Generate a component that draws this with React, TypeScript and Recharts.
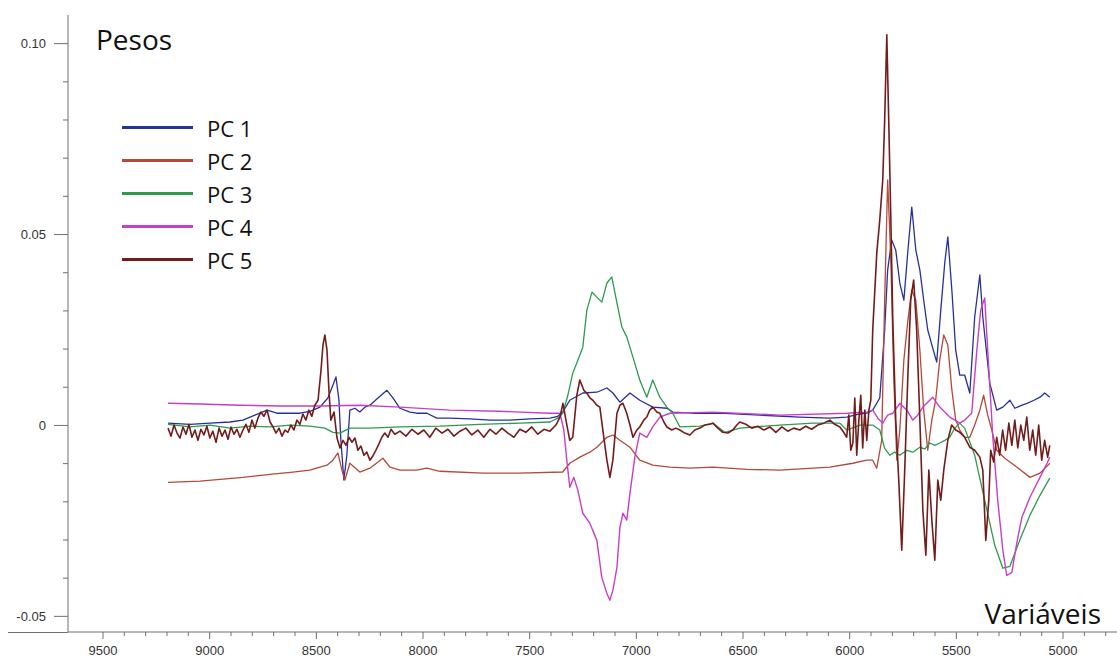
import React from 'react';
import { Legend, Line, LineChart, XAxis, YAxis } from 'recharts';

const WIDTH = 1117;
const HEIGHT = 670;
const AXIS_COLOR = '#707070';
const TICK_TEXT = '#333333';
const TICK_FONT = '"Liberation Sans", Arial, sans-serif';
const TITLE_FONT = '"Open Sans", "Noto Sans", sans-serif';

// wavenumber axis, drawn high -> low (left -> right)
const X_MIN = 4747;
const X_MAX = 9664;
const Y_MIN = -0.0541;
const Y_MAX = 0.1075;

const X_LABELS = [9500, 9000, 8500, 8000, 7500, 7000, 6500, 6000, 5500, 5000];
const Y_TICKS = [-0.05, -0.04, -0.03, -0.02, -0.01, 0, 0.01, 0.02, 0.03, 0.04, 0.05, 0.06, 0.07, 0.08, 0.09, 0.1];
const Y_LABELS = [
  { value: -0.05, text: '-0.05' },
  { value: 0, text: '0' },
  { value: 0.05, text: '0.05' },
  { value: 0.1, text: '0.10' },
];

const xTicks: number[] = [];
for (let v = 9500; v >= 4800; v -= 100) xTicks.push(v);

// loadings per component: wavenumber + weight
const pc1Wn = [
  9195, 9092, 8999, 8905, 8844, 8788, 8731, 8685, 8624, 8577, 8530, 8483, 8446, 8422, 8408, 8394, 8385, 8371, 8357, 8343,
  8319, 8296, 8272, 8249, 8211, 8169, 8141, 8108, 8061, 8029, 7982, 7935, 7874, 7780, 7686, 7593, 7499, 7405, 7368, 7345,
  7312, 7251, 7185, 7138, 7110, 7077, 7030, 6984, 6923, 6857, 6829, 6735, 6609, 6421, 6234, 6093, 6014, 5953, 5920, 5892,
  5859, 5836, 5822, 5803, 5784, 5765, 5746, 5727, 5709, 5690, 5671, 5653, 5634, 5611, 5592, 5573, 5554, 5540, 5521, 5503,
  5484, 5461, 5437, 5414, 5390, 5376, 5343, 5311, 5282, 5249, 5226, 5192, 5169, 5136, 5108, 5086, 5062,
];
const pc1 = [
  0.0006, 0.0003, 0.0006, 0.0009, 0.0014, 0.0027, 0.004, 0.0032, 0.0032, 0.0032, 0.0037, 0.0048, 0.0072, 0.0106, 0.0127, 0.0066, -0.0038, -0.0143, -0.0078, 0.004,
  0.0045, 0.0035, 0.0048, 0.0053, 0.0072, 0.0092, 0.0072, 0.0045, 0.0035, 0.0032, 0.0032, 0.0019, 0.0019, 0.0017, 0.0014, 0.0014, 0.0017, 0.0019, 0.0024, 0.0035,
  0.0066, 0.0085, 0.0087, 0.0098, 0.0085, 0.0061, 0.0085, 0.0066, 0.0048, 0.0045, 0.0035, 0.0032, 0.0032, 0.0027, 0.0022, 0.0019, 0.0022, 0.003, 0.0032, 0.004,
  0.0072, 0.025, 0.0407, 0.0486, 0.0459, 0.0373, 0.0328, 0.0459, 0.0572, 0.0459, 0.0407, 0.0328, 0.025, 0.0203, 0.0166, 0.0302, 0.0428, 0.0494, 0.0354, 0.0197,
  0.0132, 0.0132, 0.0085, 0.0284, 0.0394, 0.0284, 0.011, 0.004, 0.0048, 0.0066, 0.0045, 0.0053, 0.0058, 0.0066, 0.0074, 0.0085, 0.0074,
];

const pc2Wn = [
  9195, 9045, 8844, 8717, 8610, 8530, 8483, 8450, 8422, 8399, 8380, 8366, 8343, 8296, 8249, 8188, 8155, 8108, 8029, 7982,
  7921, 7719, 7547, 7345, 7312, 7265, 7218, 7185, 7138, 7110, 7077, 7030, 6984, 6923, 6842, 6749, 6641, 6482, 6327, 6093,
  5985, 5920, 5892, 5873, 5850, 5836, 5822, 5807, 5793, 5779, 5765, 5746, 5727, 5709, 5690, 5671, 5653, 5634, 5615, 5597,
  5578, 5559, 5540, 5521, 5503, 5484, 5461, 5437, 5414, 5390, 5372, 5353, 5334, 5311, 5273, 5217, 5155, 5108, 5062,
];
const pc2 = [
  -0.0149, -0.0146, -0.0136, -0.0128, -0.0122, -0.0117, -0.0109, -0.0104, -0.0091, -0.0072, -0.0117, -0.0143, -0.0099, -0.0122, -0.0112, -0.0086, -0.0109, -0.0117, -0.0117, -0.0112,
  -0.012, -0.0125, -0.0125, -0.0122, -0.0099, -0.0083, -0.007, -0.0057, -0.0031, -0.0025, -0.0039, -0.0057, -0.0091, -0.0104, -0.0109, -0.0112, -0.0109, -0.0115, -0.0117, -0.0109,
  -0.0099, -0.0091, -0.0091, -0.0112, -0.0039, 0.0328, 0.0643, 0.0433, 0.0119, -0.0091, -0.0012, 0.0171, 0.0276, 0.0355, 0.0328, 0.0197, 0.004, -0.0065, 0.0014, 0.0066,
  0.0171, 0.0237, 0.0211, 0.0093, 0.0014, -0.0012, -0.0031, -0.0031, 0.0001, 0.004, 0.0079, 0.0027, -0.0012, -0.0065, -0.0086, -0.0109, -0.0136, -0.0125, -0.0099,
];

const pc3Wn = [
  9195, 9092, 8999, 8905, 8811, 8717, 8624, 8530, 8460, 8422, 8389, 8343, 8249, 8108, 7921, 7733, 7546, 7405, 7368, 7345,
  7321, 7298, 7274, 7251, 7232, 7208, 7185, 7162, 7138, 7115, 7091, 7068, 7045, 7016, 6984, 6951, 6923, 6890, 6857, 6829,
  6796, 6702, 6641, 6585, 6515, 6327, 6173, 6046, 6014, 5953, 5892, 5859, 5836, 5812, 5789, 5765, 5732, 5704, 5671, 5648,
  5625, 5601, 5578, 5554, 5531, 5507, 5484, 5461, 5414, 5367, 5320, 5282, 5249, 5203, 5155, 5108, 5062,
];
const pc3 = [
  0.0003, -0.0004, 0.0001, -0.0007, -0.0002, -0.0004, 0.0001, -0.0002, -0.0007, -0.0018, -0.002, -0.0007, -0.0007, -0.0004, -0.0002, 0.0003, 0.0006, 0.0009, 0.0019, 0.0032,
  0.0079, 0.0137, 0.0171, 0.0205, 0.0302, 0.0349, 0.0336, 0.0323, 0.0373, 0.0389, 0.0321, 0.0258, 0.0232, 0.0179, 0.0119, 0.0074, 0.0119, 0.0074, 0.0048, 0.0032,
  -0.0004, -0.0002, 0.0006, -0.0018, -0.0007, 0.0001, 0.0006, 0.0006, -0.0012, 0.0001, 0.0001, -0.0012, -0.006, -0.0078, -0.007, -0.0078, -0.0065, -0.007, -0.0057, -0.0062,
  -0.0046, -0.0052, -0.0046, -0.0039, -0.0031, -0.0007, 0.0006, -0.0007, -0.0078, -0.0196, -0.0314, -0.0374, -0.0369, -0.0301, -0.0235, -0.0183, -0.0138,
];

const pc4Wn = [
  9195, 9045, 8858, 8671, 8483, 8296, 8108, 7874, 7640, 7405, 7358, 7340, 7326, 7312, 7293, 7274, 7251, 7218, 7185, 7162,
  7138, 7124, 7110, 7091, 7077, 7063, 7045, 7030, 7007, 6984, 6951, 6923, 6890, 6843, 6641, 6327, 6014, 5920, 5892, 5868,
  5845, 5822, 5798, 5765, 5732, 5704, 5681, 5657, 5634, 5611, 5578, 5531, 5484, 5461, 5428, 5404, 5386, 5367, 5353, 5329,
  5306, 5282, 5264, 5240, 5217, 5193, 5155, 5108, 5075, 5062,
];
const pc4 = [
  0.0058, 0.0056, 0.0053, 0.0051, 0.0051, 0.0053, 0.0048, 0.004, 0.0037, 0.0032, 0.0032, -0.0012, -0.0091, -0.0162, -0.0136, -0.017, -0.023, -0.0256, -0.0301, -0.0398,
  -0.044, -0.0458, -0.0432, -0.0372, -0.0267, -0.023, -0.0248, -0.0178, -0.0083, -0.002, -0.0031, -0.0004, 0.0022, 0.0032, 0.0035, 0.0027, 0.0032, 0.0035, 0.004, 0.0019,
  0.0006, 0.0027, 0.0032, 0.0058, 0.004, 0.0014, 0.0027, 0.0048, 0.0061, 0.0074, 0.0048, 0.0022, 0.0006, 0.0014, 0.0032, 0.0197, 0.0302, 0.0334, 0.0197, -0.0031,
  -0.0196, -0.0327, -0.0393, -0.0385, -0.0309, -0.0241, -0.0188, -0.0136, -0.0099, -0.0083,
];

const pc5Wn = [
  9195, 9181, 9167, 9153, 9139, 9125, 9111, 9097, 9083, 9069, 9055, 9041, 9027, 9013, 8999, 8985, 8970, 8956, 8942, 8928,
  8914, 8900, 8886, 8872, 8858, 8844, 8830, 8816, 8802, 8788, 8774, 8760, 8746, 8731, 8717, 8703, 8689, 8675, 8661, 8647,
  8633, 8619, 8605, 8591, 8577, 8563, 8549, 8535, 8521, 8507, 8492, 8478, 8469, 8460, 8450, 8441, 8432, 8417,
  8403, 8389, 8375, 8361, 8347, 8333, 8319, 8305, 8291, 8277, 8263, 8249, 8235, 8221, 8207, 8193, 8179, 8164, 8150, 8132,
  8108, 8080, 8052, 8024, 7996, 7968, 7940, 7911, 7883, 7855, 7827, 7799, 7771, 7743, 7715, 7686, 7658, 7630, 7602, 7574,
  7546, 7518, 7490, 7462, 7433, 7405, 7377,
  7358, 7344, 7330, 7312, 7298, 7279, 7265, 7246, 7232, 7218, 7204, 7185, 7171, 7157, 7138, 7124, 7110, 7091, 7077, 7063,
  7045, 7030, 7016, 6998, 6984, 6965, 6951, 6937, 6923, 6904, 6890, 6871, 6857,
  6834, 6815, 6796, 6773, 6749, 6726, 6702, 6679, 6656, 6641, 6618, 6595, 6571, 6548, 6529, 6515, 6487, 6459, 6431, 6402,
  6374, 6346, 6318, 6290, 6262, 6234, 6206, 6178, 6150, 6121, 6093, 6070, 6046, 6028, 6014,
  6004, 5995, 5985, 5976, 5967, 5957, 5948, 5939, 5929, 5920, 5910, 5901,
  5892, 5882, 5873, 5859, 5845, 5836, 5826, 5817, 5807, 5798, 5784, 5770, 5756, 5742, 5728, 5714, 5700, 5686, 5671, 5657,
  5643, 5629, 5615, 5601, 5587, 5573, 5559,
  5540, 5522, 5503, 5484, 5461, 5437, 5414, 5390, 5376, 5362, 5348, 5339, 5325, 5311, 5297, 5283, 5269, 5254, 5240, 5226,
  5212, 5198, 5184, 5170, 5156, 5142, 5128, 5114, 5100, 5086, 5072, 5062,
];
const pc5 = [
  -0.0007, -0.0028, 0.0001, -0.002, -0.0033, -0.0004, -0.0023, 0.0003, -0.0031, -0.0012, -0.0039, -0.001, -0.0025, -0.0002, -0.0033, -0.0015, -0.0044, -0.0007, -0.0028, -0.0012,
  -0.0036, -0.0004, -0.0023, -0.001, -0.0031, -0.0012, 0.0003, -0.0018, 0.0014, -0.0007, 0.0019, 0.0035, 0.0024, 0.004, 0.0009, -0.0004, -0.002, -0.0007, -0.0028, -0.0012,
  -0.0018, 0.0001, -0.0012, 0.0014, 0.0003, 0.003, 0.0014, 0.004, 0.0024, 0.0053, 0.0066, 0.0145, 0.021, 0.0237, 0.0197, 0.0092, 0.0014, 0.0035,
  -0.0033, -0.0059, -0.0039, -0.0052, -0.0031, -0.0044, -0.0033, -0.0065, -0.0054, -0.0078, -0.007, -0.0091, -0.008, -0.0065, -0.0049, -0.0031, -0.002, -0.0031, -0.001, -0.0023,
  -0.0015, -0.0028, -0.001, -0.0023, -0.0012, -0.0031, -0.0007, -0.002, -0.001, -0.0028, -0.0015, -0.0007, -0.0025, -0.0012, -0.0031, -0.001, -0.0023, -0.0007, -0.002, -0.0031,
  -0.001, -0.0018, -0.0004, -0.0023, -0.001, -0.0015, 0.0001,
  0.0022, 0.0058, 0.0014, -0.0039, -0.0031, 0.0079, 0.0119, 0.0092, 0.0085, 0.0072, 0.0066, 0.0053, 0.0048, -0.0012, -0.0091, -0.0136, -0.0091, 0.0032, 0.0053, 0.0058,
  0.0032, 0.0001, -0.0031, -0.0012, -0.0004, 0.0014, 0.0022, 0.004, 0.0048, 0.0035, 0.0032, 0.0009, -0.0004,
  -0.0012, -0.0007, -0.0012, -0.002, -0.0025, -0.0012, -0.0007, 0.0001, 0.0003, 0.0006, -0.0007, -0.0018, -0.002, -0.0012, 0.0001, 0.0009, 0.0003, -0.0007, -0.0002, -0.0012,
  -0.0004, -0.0018, -0.0004, -0.0015, -0.0007, -0.0012, -0.0002, -0.001, 0.0001, 0.0006, 0.0014, 0.0003, -0.0004, -0.0018, -0.0031,
  0.0027, -0.0065, -0.0046, 0.0072, -0.0078, 0.0014, 0.0079, -0.0059, 0.004, -0.0039, 0.004, 0.0066,
  0.025, 0.0355, 0.0452, 0.0538, 0.0643, 0.08, 0.1023, 0.08, 0.0538, 0.0276, 0.0014, -0.0143, -0.0327, -0.0117, 0.0119, 0.0328, 0.0381, 0.025, 0.0014, -0.0222,
  -0.034, -0.0117, -0.0248, -0.0353, -0.0143, -0.0196, -0.0117,
  -0.0039, 0.0001, -0.0012, -0.0018, -0.0031, -0.0057, -0.0065, -0.0083, -0.0117, -0.0301, -0.0196, -0.0065, -0.0096, -0.0031, -0.0078, -0.0012, -0.0065, 0.0006, -0.0052, 0.0014,
  -0.0059, 0.0001, -0.0039, 0.0022, -0.0065, -0.0012, -0.0078, 0.0001, -0.0091, -0.0039, -0.0083, -0.0052,
];

const toPoints = (wn: number[], w: number[]) => wn.map((x, i) => ({ x, y: w[i] }));

const SERIES = [
  { name: 'PC 1', color: '#26309a', width: 1.3, data: toPoints(pc1Wn, pc1) },
  { name: 'PC 2', color: '#b4483a', width: 1.3, data: toPoints(pc2Wn, pc2) },
  { name: 'PC 3', color: '#2f9a4e', width: 1.3, data: toPoints(pc3Wn, pc3) },
  { name: 'PC 4', color: '#c63fc8', width: 1.4, data: toPoints(pc4Wn, pc4) },
  { name: 'PC 5', color: '#721c1c', width: 1.6, data: toPoints(pc5Wn, pc5) },
];

function XTick({ x, y, payload }: any) {
  const value = payload.value as number;
  const major = X_LABELS.includes(value);
  return (
    <g>
      <line x1={x} x2={x} y1={y} y2={y + (major ? 7 : 4)} stroke={AXIS_COLOR} />
      {major && (
        <text x={x} y={y + 23} textAnchor="middle" fontSize={13} fontFamily={TICK_FONT} fill={TICK_TEXT}>
          {value}
        </text>
      )}
    </g>
  );
}

function YTick({ x, y, payload }: any) {
  const value = payload.value as number;
  const label = Y_LABELS.find((l) => Math.abs(l.value - value) < 1e-9);
  return (
    <g>
      <line x1={x - (label ? 14 : 5)} x2={x} y1={y} y2={y} stroke={AXIS_COLOR} />
      {label && (
        <text x={x - 22} y={y} dy="0.35em" textAnchor="end" fontSize={13} fontFamily={TICK_FONT} fill={TICK_TEXT}>
          {label.text}
        </text>
      )}
    </g>
  );
}

function LegendBox({ payload }: any) {
  return (
    <div>
      {(payload || []).map((entry: any) => (
        <div key={entry.value} style={{ display: 'flex', alignItems: 'center', height: 33 }}>
          <span style={{ display: 'inline-block', width: 71, height: 3, background: entry.color, marginRight: 14 }} />
          <span style={{ fontSize: 22, fontFamily: TITLE_FONT, color: '#111', lineHeight: 1 }}>{entry.value}</span>
        </div>
      ))}
    </div>
  );
}

export default function App() {
  return (
    <div style={{ position: 'absolute', left: 0, top: 0, width: WIDTH, height: HEIGHT, background: '#fff' }}>
      <LineChart width={WIDTH} height={HEIGHT} margin={{ top: 15, right: 0, bottom: 8, left: 0 }}>
        <XAxis
          type="number"
          dataKey="x"
          domain={[X_MIN, X_MAX]}
          reversed
          allowDataOverflow
          ticks={xTicks}
          interval={0}
          tick={(p: any) => <XTick {...p} />}
          tickLine={false}
          tickSize={0}
          tickMargin={0}
          axisLine={{ stroke: AXIS_COLOR }}
          height={30}
        />
        <YAxis
          type="number"
          domain={[Y_MIN, Y_MAX]}
          allowDataOverflow
          ticks={Y_TICKS}
          interval={0}
          tick={(p: any) => <YTick {...p} />}
          tickLine={false}
          tickSize={0}
          tickMargin={0}
          axisLine={{ stroke: AXIS_COLOR }}
          width={68}
        />
        <Legend
          layout="vertical"
          align="center"
          verticalAlign="middle"
          content={<LegendBox />}
          wrapperStyle={{ left: 122, top: 111, width: 'auto' }}
        />
        {SERIES.map((s) => (
          <Line
            key={s.name}
            name={s.name}
            data={s.data}
            dataKey="y"
            type="linear"
            stroke={s.color}
            strokeWidth={s.width}
            strokeLinejoin="round"
            dot={false}
            activeDot={false}
            isAnimationActive={false}
          />
        ))}
      </LineChart>
      <svg width={WIDTH} height={HEIGHT} style={{ position: 'absolute', left: 0, top: 0, pointerEvents: 'none' }}>
        {/* x axis line carries on past the y axis */}
        <line x1={8} x2={68} y1={632.5} y2={632.5} stroke={AXIS_COLOR} />
        <text x={96} y={50} fontSize={28} fontFamily={TITLE_FONT} fill="#111">
          Pesos
        </text>
        <text x={1101} y={624} textAnchor="end" fontSize={28} fontFamily={TITLE_FONT} fill="#111">
          Variáveis
        </text>
      </svg>
    </div>
  );
}
